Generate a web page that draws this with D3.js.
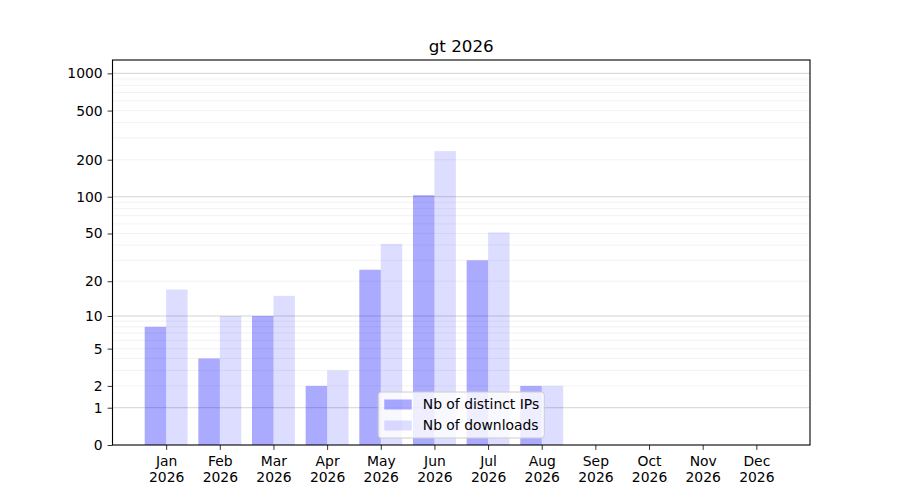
<!DOCTYPE html>
<html>
<head>
<meta charset="utf-8">
<script src="https://cdn.jsdelivr.net/npm/d3@7"></script>
<style>
  body { margin: 0; background: #fff; }
  svg text { font-family: "DejaVu Sans", sans-serif; }
</style>
</head>
<body>
<div id="chart"></div>
<script>
// data
const months = ["Jan", "Feb", "Mar", "Apr", "May", "Jun", "Jul", "Aug", "Sep", "Oct", "Nov", "Dec"];
const year = "2026";
const distinctIPs = [8, 4, 10, 2, 25, 103, 30, 2, 0, 0, 0, 0];
const downloads = [17, 10, 15, 3, 41, 235, 51, 2, 0, 0, 0, 0];
const yTickLabels = [0, 1, 2, 5, 10, 20, 50, 100, 200, 500, 1000];
const yMajorGrid = [1, 10, 100, 1000];
const yMinorGrid = [2, 3, 4, 5, 6, 7, 8, 9, 20, 30, 40, 50, 60, 70, 80, 90, 200, 300, 400, 500, 600, 700, 800, 900];
const yMax = 1282;

const width = 900, height = 500;
const margin = { top: 60, right: 90, bottom: 55, left: 112.5 };
const fs = "13.9px";

const svg = d3.select("#chart").append("svg")
    .attr("width", width)
    .attr("height", height);

// log10(v + 1) scale, same as symlog with constant 1
const x = d3.scaleLinear().domain([-1, 12]).range([margin.left, width - margin.right]);
const y = d3.scaleSymlog().constant(1).domain([0, yMax]).range([height - margin.bottom, margin.top]);

// grid
svg.append("g")
    .selectAll("line")
    .data(yMinorGrid)
    .join("line")
    .attr("x1", x(-1)).attr("x2", x(12))
    .attr("y1", d => y(d)).attr("y2", d => y(d))
    .attr("stroke", "#b0b0b0")
    .attr("stroke-opacity", 0.2)
    .attr("stroke-width", 0.8);

svg.append("g")
    .selectAll("line")
    .data(yMajorGrid)
    .join("line")
    .attr("x1", x(-1)).attr("x2", x(12))
    .attr("y1", d => y(d)).attr("y2", d => y(d))
    .attr("stroke", "#b0b0b0")
    .attr("stroke-opacity", 0.7)
    .attr("stroke-width", 0.8);

// bars
const barW = 0.4;
svg.append("g")
    .selectAll("rect")
    .data(distinctIPs)
    .join("rect")
    .attr("x", (d, i) => x(i - barW))
    .attr("y", d => y(d))
    .attr("width", x(barW) - x(0))
    .attr("height", d => y(0) - y(d))
    .attr("fill", "blue")
    .attr("fill-opacity", 0.333);

svg.append("g")
    .selectAll("rect")
    .data(downloads)
    .join("rect")
    .attr("x", (d, i) => x(i))
    .attr("y", d => y(d))
    .attr("width", x(barW) - x(0))
    .attr("height", d => y(0) - y(d))
    .attr("fill", "blue")
    .attr("fill-opacity", 0.133);

// axes
const yAxis = svg.append("g")
    .attr("transform", `translate(${margin.left},0)`)
    .call(d3.axisLeft(y).tickValues(yTickLabels).tickFormat(d3.format("d")).tickSize(4.9).tickPadding(4.9));

const xAxis = svg.append("g")
    .attr("transform", `translate(0,${height - margin.bottom})`)
    .call(d3.axisBottom(x).tickValues(d3.range(12)).tickFormat("").tickSize(4.9));

xAxis.selectAll(".tick").append("text")
    .attr("fill", "#000")
    .attr("text-anchor", "middle")
    .attr("font-size", fs)
    .selectAll("tspan")
    .data(i => [months[i], year])
    .join("tspan")
    .attr("x", 0)
    .attr("y", (d, j) => 21 + j * 16)
    .text(d => d);

[yAxis, xAxis].forEach(a => {
    a.select(".domain").remove();
    a.selectAll(".tick line").attr("stroke", "#000").attr("stroke-width", 0.8);
});
yAxis.selectAll(".tick text").attr("font-size", fs).attr("fill", "#000")
    .attr("font-family", "DejaVu Sans, sans-serif");

// frame
svg.append("rect")
    .attr("x", margin.left)
    .attr("y", margin.top)
    .attr("width", width - margin.right - margin.left)
    .attr("height", height - margin.bottom - margin.top)
    .attr("fill", "none")
    .attr("stroke", "#000")
    .attr("stroke-width", 1.1);

// title
svg.append("text")
    .attr("x", (margin.left + width - margin.right) / 2)
    .attr("y", 52)
    .attr("text-anchor", "middle")
    .attr("font-size", "16.7px")
    .text("gt 2026");

// legend
const legendItems = [
    { label: "Nb of distinct IPs", opacity: 0.333 },
    { label: "Nb of downloads", opacity: 0.133 }
];
const lgW = 166, lgH = 46;
const lgX = (margin.left + width - margin.right) / 2 - lgW / 2;
const lgY = height - margin.bottom - 7 - lgH;
const legend = svg.append("g").attr("transform", `translate(${lgX},${lgY})`);
legend.append("rect")
    .attr("width", lgW).attr("height", lgH)
    .attr("rx", 3)
    .attr("fill", "#fff").attr("fill-opacity", 0.8)
    .attr("stroke", "#ccc").attr("stroke-width", 1);
legend.selectAll("g.item")
    .data(legendItems)
    .join("g")
    .attr("class", "item")
    .attr("transform", (d, i) => `translate(0,${12.5 + i * 21})`)
    .each(function (d) {
        const g = d3.select(this);
        g.append("rect")
            .attr("x", 6).attr("y", -5)
            .attr("width", 27.5).attr("height", 10)
            .attr("fill", "blue").attr("fill-opacity", d.opacity);
        g.append("text")
            .attr("x", 44.5).attr("y", 0)
            .attr("dy", "0.35em")
            .attr("font-size", fs)
            .text(d.label);
    });
</script>
</body>
</html>
